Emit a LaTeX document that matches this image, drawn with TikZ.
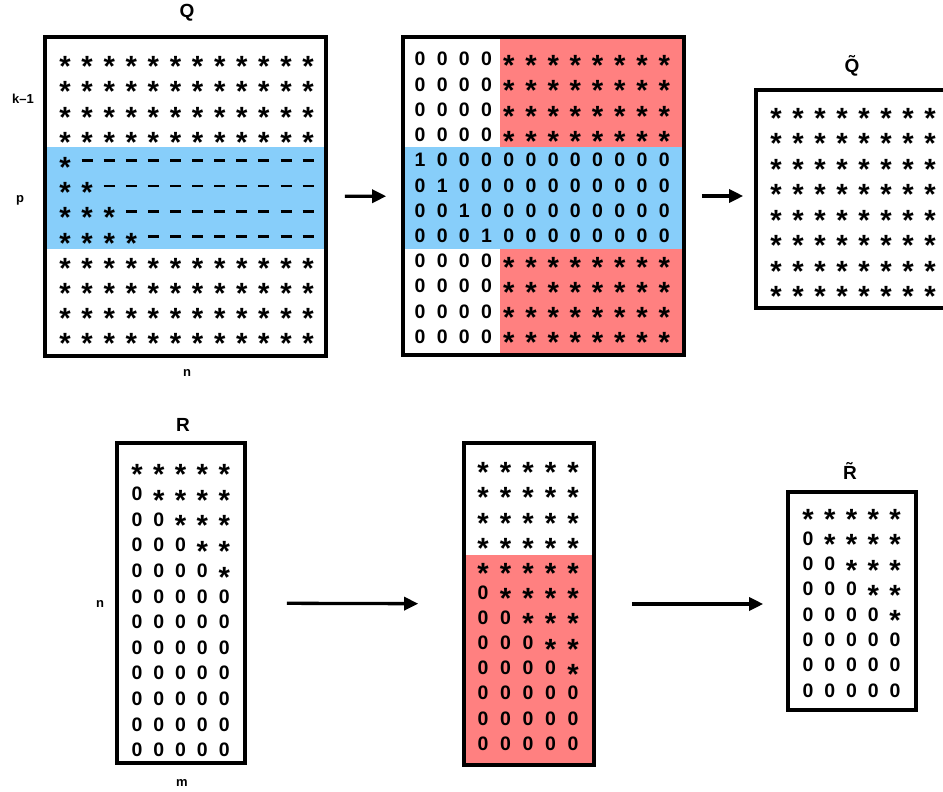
\documentclass[tikz,border=0pt]{standalone}
\usepackage{fontspec}
\setmainfont{Liberation Sans}
\usetikzlibrary{arrows.meta,positioning}

\definecolor{bandblue}{RGB}{135,206,250}
\definecolor{bandred}{RGB}{255,128,128}
\newcommand{\mstar}{\raisebox{-9.6pt}{\scalebox{1.5}{*}}}
\newcommand{\mdash}{\rule[5.6pt]{11pt}{2.8pt}}

\begin{document}
\begin{tikzpicture}[
    x=1pt, y=-1pt,
    box/.style={draw, line width=3.6pt, inner sep=0pt},
    entry/.style={font=\fontsize{19.5}{19.5}\selectfont\bfseries, inner sep=0pt,
      text height=14pt, text depth=0pt, anchor=center},
    title/.style={font=\fontsize{19}{19}\selectfont\bfseries, inner sep=0pt},
    dimlabel/.style={font=\fontsize{13}{13}\selectfont\bfseries, inner sep=0pt},
    arr/.style={line width=3.3pt, -{Triangle[length=14pt, width=13pt]}}]
  \useasboundingbox (0,0) rectangle (943,792);

  % Q
  \fill[bandblue] (45,147) rectangle (326,249);
  \foreach \r in {0,...,11}
    \foreach \c in {0,...,11}
      \node[entry] (q-\r-\c) at (65+22.1*\c, 60+25.2*\r)
        {\ifnum\r<4 \mstar\else\ifnum\r>7 \mstar\else
           \ifnum\c<\numexpr\r-3\relax\mstar\else\mdash\fi\fi\fi};
  \node[box, minimum width=281pt, minimum height=319pt] (q) at (185.5,196.5) {};
  \node[title] (qtitle) at (187,13) {Q};
  \node[dimlabel] (qk) at (23,99) {k--1};
  \node[dimlabel] (qp) at (20,200) {p};
  \node[dimlabel] (qn) at (187,373) {n};

  % Q nach der Umformung
  \fill[bandred] (500,37) rectangle (684,147);
  \fill[bandred] (500,249) rectangle (684,355);
  \fill[bandblue] (403,147) rectangle (684,249);
  \foreach \r in {0,...,11}
    \foreach \c in {0,...,11}
      \node[entry] (m-\r-\c) at (420+22.2*\c, 59+25.2*\r)
        {\ifnum\r<4 \ifnum\c<4 0\else\mstar\fi\else
         \ifnum\r>7 \ifnum\c<4 0\else\mstar\fi\else
         \ifnum\c=\numexpr\r-4\relax 1\else 0\fi\fi\fi};
  \node[box, minimum width=281pt, minimum height=318pt] (qm) at (543.5,196) {};

  % Q tilde
  \foreach \r in {0,...,7}
    \foreach \c in {0,...,7}
      \node[entry] (t-\r-\c) at (776+22*\c, 112+25.4*\r) {\mstar};
  \node[box, minimum width=194pt, minimum height=218pt] (qt) at (853,199) {};
  \node[title] (qttitle) at (852,66) {\~{Q}};

  \draw[arr, shorten <=17pt, shorten >=15pt] (q) -- (qm);
  \draw[arr, shorten <=16pt, shorten >=11pt] (qm.east) -- (qt.west |- qm.east);

  % R
  \foreach \r in {0,...,11}
    \foreach \c in {0,...,4}
      \node[entry] (r-\r-\c) at (137+21.8*\c, 468+25.6*\r)
        {\ifnum\c<\r\relax 0\else\mstar\fi};
  \node[box, minimum width=128pt, minimum height=320pt] (r) at (181,603) {};
  \node[title] (rtitle) at (183,425) {R};
  \node[dimlabel] (rn) at (100,604) {n};
  \node[dimlabel] (rm) at (182,783) {m};

  % R nach der Umformung
  \fill[bandred] (464,555) rectangle (594,765);
  \foreach \r in {0,...,11}
    \foreach \c in {0,...,4}
      \node[entry] (s-\r-\c) at (483+22.5*\c, 466+25.2*\r)
        {\ifnum\r<4 \mstar\else\ifnum\c<\numexpr\r-4\relax 0\else\mstar\fi\fi};
  \node[box, minimum width=130pt, minimum height=322pt] (rmid) at (529,604) {};

  % R tilde
  \foreach \r in {0,...,7}
    \foreach \c in {0,...,4}
      \node[entry] (u-\r-\c) at (808+21.75*\c, 513+25.3*\r)
        {\ifnum\c<\r\relax 0\else\mstar\fi};
  \node[box, minimum width=128pt, minimum height=218pt] (rt) at (852,601) {};
  \node[title] (rttitle) at (850,471) {\~{R}};

  \draw[arr, shorten <=40pt, shorten >=44pt] (r) -- (rmid);
  \draw[arr, shorten <=36pt, shorten >=23pt] (rmid.east) -- (rt.west |- rmid.east);
\end{tikzpicture}
\end{document}
